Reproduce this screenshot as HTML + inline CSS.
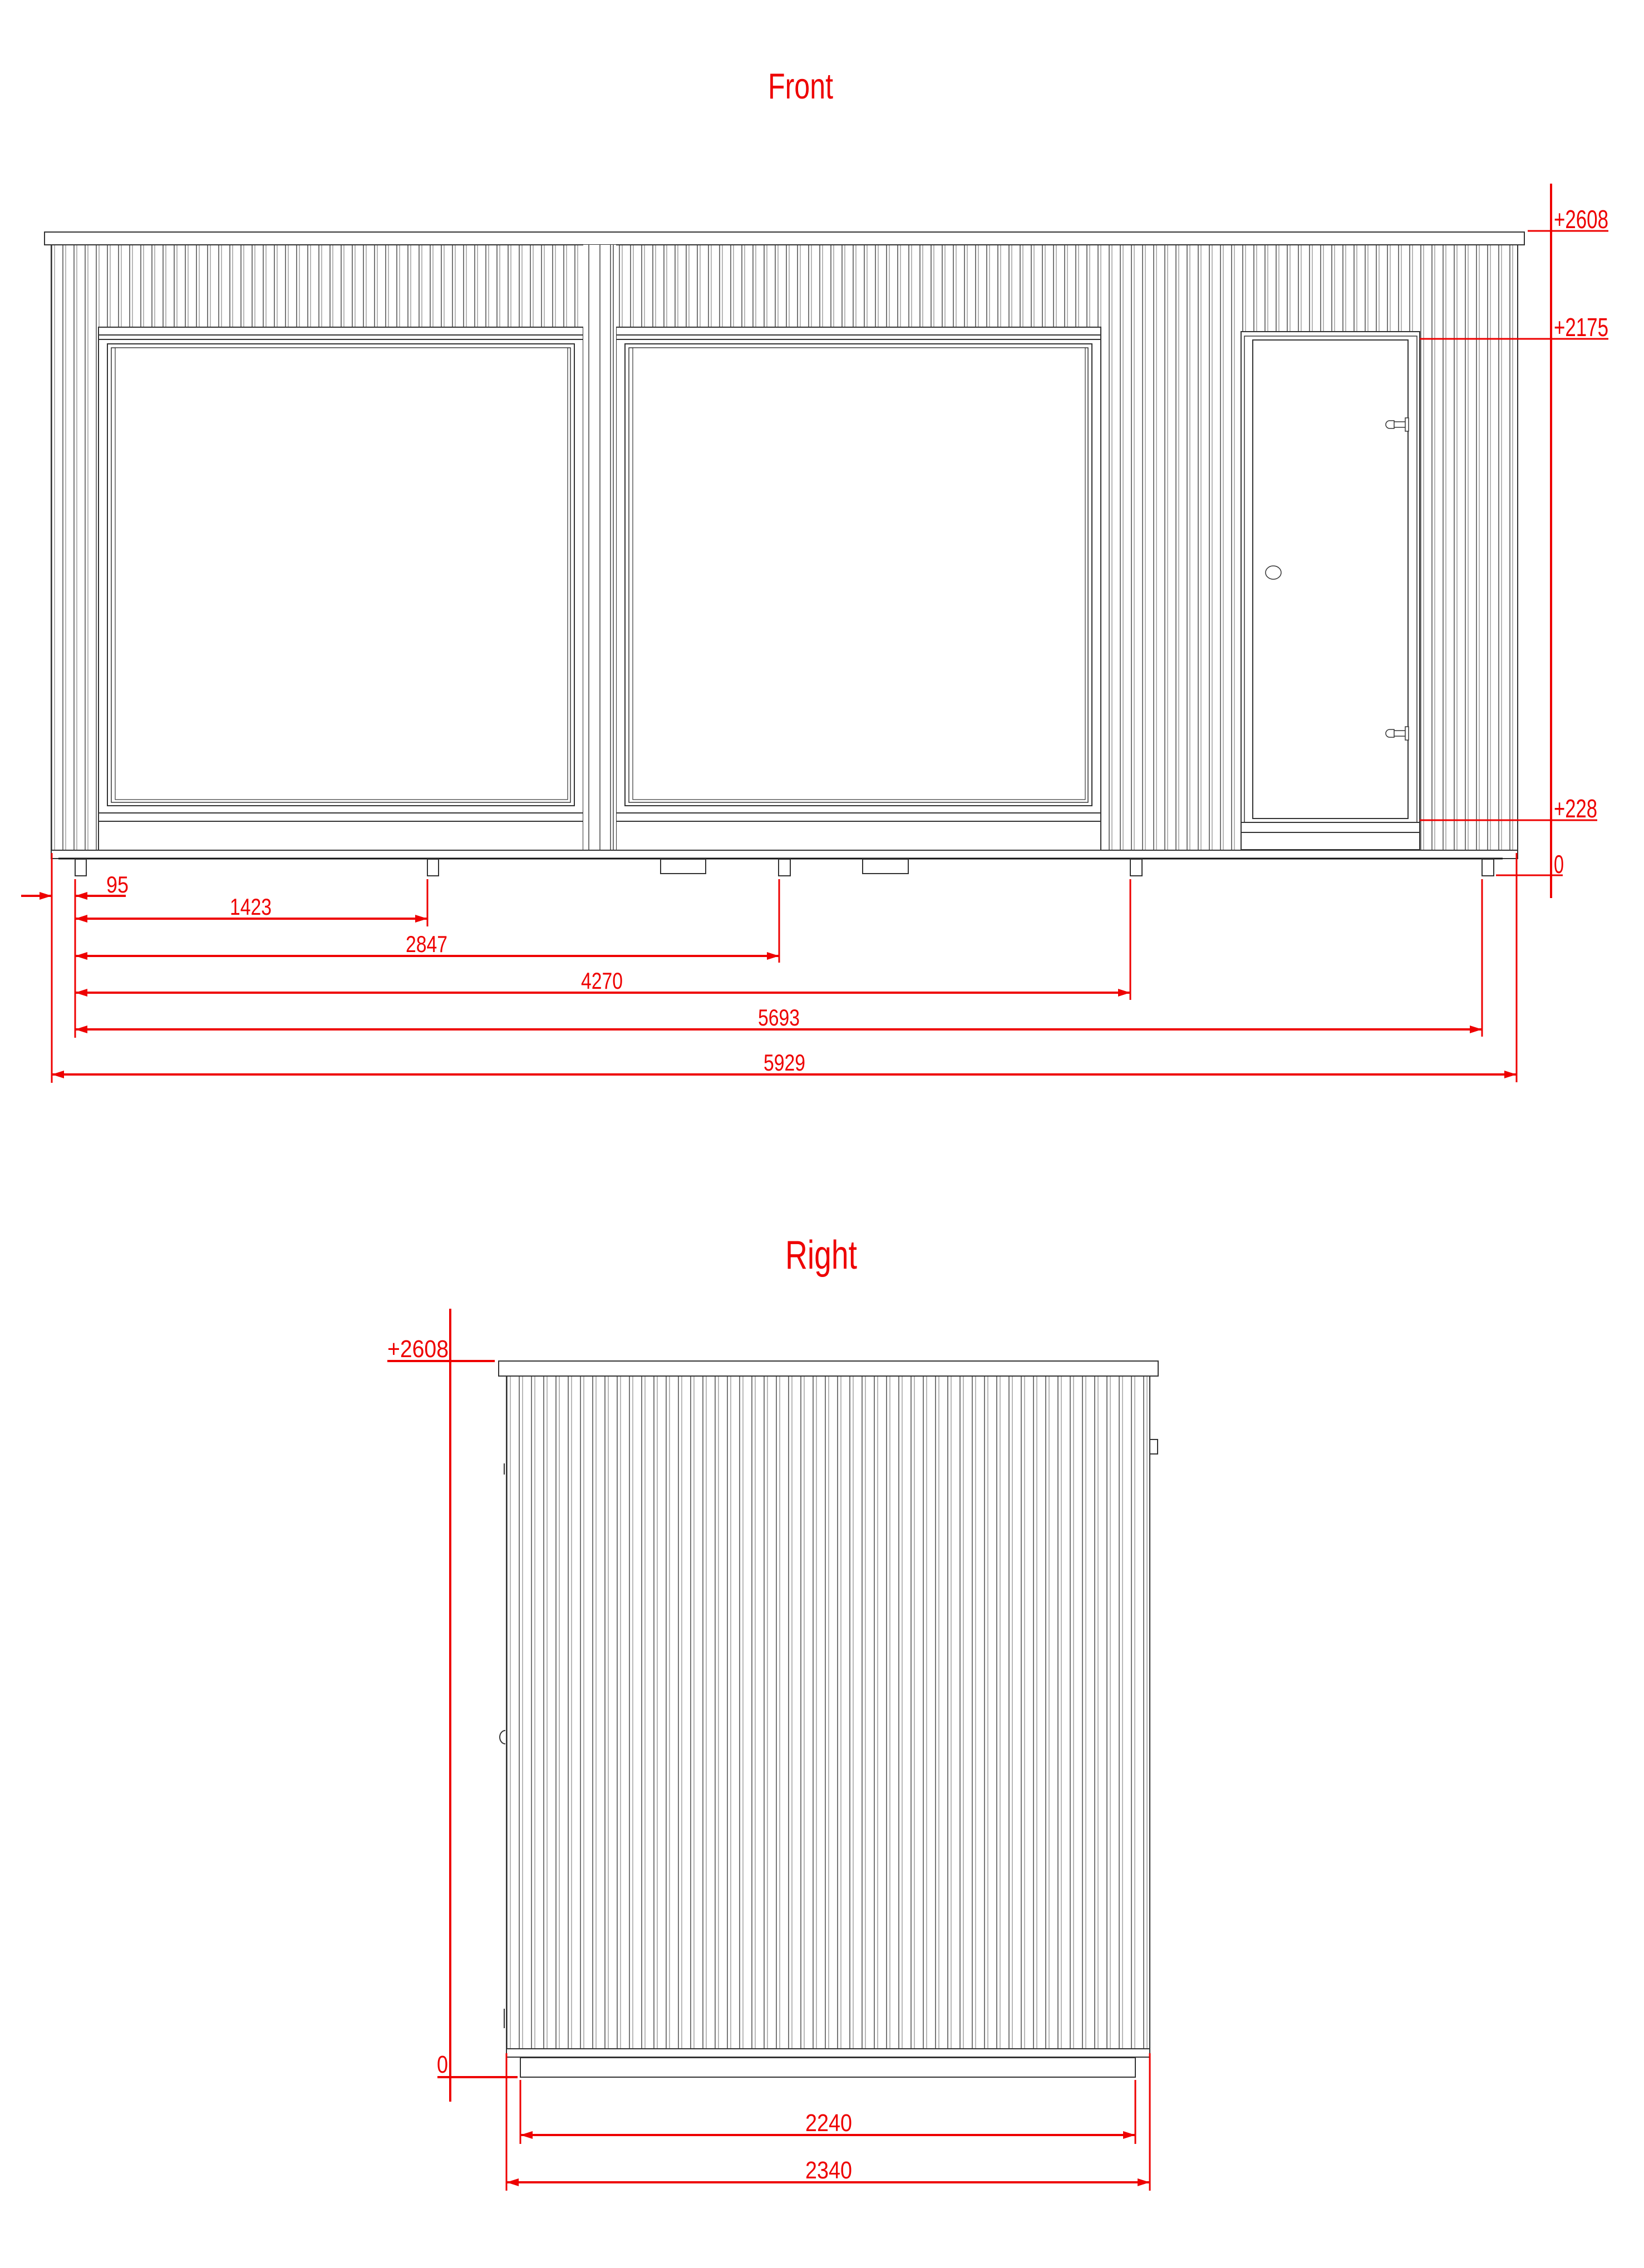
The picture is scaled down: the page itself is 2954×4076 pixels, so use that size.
<!DOCTYPE html>
<html><head><meta charset="utf-8"><style>html,body{margin:0;padding:0;background:#fff}svg{display:block}</style></head>
<body>
<svg width="2954" height="4076" viewBox="0 0 2954 4076" xmlns="http://www.w3.org/2000/svg" font-family="Liberation Sans, sans-serif">
<defs>
<pattern id="ribF" x="92" y="0" width="20" height="10" patternUnits="userSpaceOnUse">
<line x1="1" y1="0" x2="1" y2="10" stroke="#555" stroke-width="1.6"/>
<line x1="6" y1="0" x2="6" y2="10" stroke="#888" stroke-width="1.2"/>
</pattern>
<pattern id="ribR" x="910" y="0" width="22" height="10" patternUnits="userSpaceOnUse">
<line x1="1" y1="0" x2="1" y2="10" stroke="#555" stroke-width="1.6"/>
<line x1="7" y1="0" x2="7" y2="10" stroke="#888" stroke-width="1.2"/>
</pattern>
<marker id="a" markerWidth="22" markerHeight="14" refX="22" refY="7" orient="auto-start-reverse" markerUnits="userSpaceOnUse"><path d="M0,0 L22,7 L0,14 z" fill="#e00"/></marker>
</defs>

<!-- ================= FRONT ================= -->
<text x="1380" y="177" font-size="65" fill="#e00" textLength="117" lengthAdjust="spacingAndGlyphs">Front</text>

<!-- wall -->
<rect x="92" y="440" width="2635" height="1088" fill="url(#ribF)" stroke="#333" stroke-width="2"/>
<!-- roof -->
<rect x="80" y="417" width="2659" height="23" fill="#fff" stroke="#333" stroke-width="2"/>

<!-- window 1 -->
<g stroke="#333" stroke-width="2" fill="#fff">
<rect x="177" y="588" width="871" height="940"/>
<line x1="177" y1="602" x2="1048" y2="602"/>
<line x1="177" y1="610" x2="1048" y2="610"/>
<rect x="193" y="618" width="839" height="830"/>
<rect x="200" y="625" width="825" height="817" stroke-width="1.5"/>
<rect x="207" y="625" width="813" height="812" stroke-width="1.2"/>
<line x1="177" y1="1461" x2="1048" y2="1461"/>
<line x1="177" y1="1476" x2="1048" y2="1476"/>
</g>
<!-- window 2 -->
<g stroke="#333" stroke-width="2" fill="#fff">
<rect x="1107" y="588" width="871" height="940"/>
<line x1="1107" y1="602" x2="1978" y2="602"/>
<line x1="1107" y1="610" x2="1978" y2="610"/>
<rect x="1123" y="618" width="839" height="830"/>
<rect x="1130" y="625" width="825" height="817" stroke-width="1.5"/>
<rect x="1137" y="625" width="813" height="812" stroke-width="1.2"/>
<line x1="1107" y1="1461" x2="1978" y2="1461"/>
<line x1="1107" y1="1476" x2="1978" y2="1476"/>
</g>
<!-- pilaster between windows -->
<rect x="1048" y="440" width="59" height="1088" fill="#fff"/>
<g stroke="#444" stroke-width="1.5">
<line x1="1058" y1="440" x2="1058" y2="1528"/><line x1="1078" y1="440" x2="1078" y2="1528"/>
<line x1="1097" y1="440" x2="1097" y2="1528"/><line x1="1102" y1="440" x2="1102" y2="1528"/>
</g>

<!-- door -->
<g stroke="#333" stroke-width="2" fill="#fff">
<rect x="2230" y="596" width="321" height="931"/>
<rect x="2236" y="604" width="310" height="874" stroke-width="1.5"/>
<rect x="2251" y="611" width="279" height="860"/>
<line x1="2230" y1="1478" x2="2551" y2="1478"/>
<line x1="2230" y1="1496" x2="2551" y2="1496"/>
<ellipse cx="2288" cy="1029" rx="14" ry="12" stroke-width="1.5"/>
<path d="M2505,756 h-8 a7,7 0 0 0 0,14 h8 z M2505,758 h22 v10 h-22" stroke-width="1.5"/>
<rect x="2525" y="751" width="6" height="24" stroke-width="1.5"/>
<path d="M2505,1311 h-8 a7,7 0 0 0 0,14 h8 z M2505,1313 h22 v10 h-22" stroke-width="1.5"/>
<rect x="2525" y="1306" width="6" height="24" stroke-width="1.5"/>
</g>

<!-- floor -->
<rect x="92" y="1528" width="2635" height="15" fill="#fff" stroke="#333" stroke-width="2"/>
<line x1="105" y1="1543" x2="2700" y2="1543" stroke="#111" stroke-width="3"/>
<g stroke="#333" stroke-width="2" fill="#fff">
<rect x="135" y="1544" width="20" height="30"/>
<rect x="768" y="1544" width="20" height="30"/>
<rect x="1399" y="1544" width="21" height="30"/>
<rect x="2031" y="1544" width="21" height="30"/>
<rect x="2663" y="1544" width="21" height="30"/>
<rect x="1187" y="1544" width="81" height="26"/>
<rect x="1550" y="1544" width="82" height="26"/>
</g>

<!-- front dims -->
<g stroke="#e00" fill="none">
<line x1="2787" y1="330" x2="2787" y2="1614" stroke-width="4"/>
<line x1="2745" y1="415" x2="2890" y2="415" stroke-width="3"/>
<line x1="2551" y1="609" x2="2890" y2="609" stroke-width="3"/>
<line x1="2551" y1="1474" x2="2870" y2="1474" stroke-width="3"/>
<line x1="2688" y1="1573" x2="2808" y2="1573" stroke-width="3"/>
<line x1="93" y1="1533" x2="93" y2="1946" stroke-width="3"/>
<line x1="135" y1="1580" x2="135" y2="1865" stroke-width="3"/>
<line x1="768" y1="1580" x2="768" y2="1665" stroke-width="3"/>
<line x1="1400" y1="1580" x2="1400" y2="1730" stroke-width="3"/>
<line x1="2031" y1="1580" x2="2031" y2="1797" stroke-width="3"/>
<line x1="2663" y1="1580" x2="2663" y2="1863" stroke-width="3"/>
<line x1="2725" y1="1533" x2="2725" y2="1945" stroke-width="3"/>
<line x1="38" y1="1610" x2="93" y2="1610" stroke-width="4" marker-end="url(#a)"/>
<line x1="226" y1="1610" x2="135" y2="1610" stroke-width="4" marker-end="url(#a)"/>
<line x1="135" y1="1651" x2="768" y2="1651" stroke-width="4" marker-start="url(#a)" marker-end="url(#a)"/>
<line x1="135" y1="1718" x2="1400" y2="1718" stroke-width="4" marker-start="url(#a)" marker-end="url(#a)"/>
<line x1="135" y1="1784" x2="2031" y2="1784" stroke-width="4" marker-start="url(#a)" marker-end="url(#a)"/>
<line x1="135" y1="1850" x2="2663" y2="1850" stroke-width="4" marker-start="url(#a)" marker-end="url(#a)"/>
<line x1="93" y1="1931" x2="2725" y2="1931" stroke-width="4" marker-start="url(#a)" marker-end="url(#a)"/>
</g>
<g fill="#e00" font-size="42">
<text x="2792" y="410" font-size="46" textLength="98" lengthAdjust="spacingAndGlyphs">+2608</text>
<text x="2792" y="604" font-size="46" textLength="98" lengthAdjust="spacingAndGlyphs">+2175</text>
<text x="2792" y="1469" font-size="46" textLength="78" lengthAdjust="spacingAndGlyphs">+228</text>
<text x="2792" y="1569" font-size="46" textLength="18" lengthAdjust="spacingAndGlyphs">0</text>
<text x="191" y="1604" textLength="40" lengthAdjust="spacingAndGlyphs">95</text>
<text x="413" y="1644" textLength="75" lengthAdjust="spacingAndGlyphs">1423</text>
<text x="729" y="1711" textLength="75" lengthAdjust="spacingAndGlyphs">2847</text>
<text x="1044" y="1777" textLength="75" lengthAdjust="spacingAndGlyphs">4270</text>
<text x="1362" y="1843" textLength="75" lengthAdjust="spacingAndGlyphs">5693</text>
<text x="1372" y="1924" textLength="75" lengthAdjust="spacingAndGlyphs">5929</text>
</g>

<!-- ================= RIGHT ================= -->
<text x="1411" y="2280" font-size="72" fill="#e00" textLength="129" lengthAdjust="spacingAndGlyphs">Right</text>
<rect x="910" y="2473" width="1156" height="1209" fill="url(#ribR)" stroke="#333" stroke-width="2"/>
<rect x="896" y="2446" width="1185" height="27" fill="#fff" stroke="#333" stroke-width="2"/>
<rect x="910" y="3682" width="1156" height="15" fill="#fff" stroke="#333" stroke-width="2"/>
<rect x="935" y="3698" width="1105" height="35" fill="#fff" stroke="#333" stroke-width="2"/>
<path d="M2066,2587 h14 v26 h-14" fill="none" stroke="#333" stroke-width="2"/>
<line x1="906" y1="2630" x2="906" y2="2650" stroke="#333" stroke-width="2"/>
<path d="M908,3110 a10,12 0 0 0 0,24" fill="none" stroke="#333" stroke-width="2"/>
<line x1="906" y1="3610" x2="906" y2="3645" stroke="#333" stroke-width="2"/>

<g stroke="#e00" fill="none">
<line x1="809" y1="2352" x2="809" y2="3777" stroke-width="4"/>
<line x1="696" y1="2446" x2="889" y2="2446" stroke-width="4"/>
<line x1="786" y1="3733" x2="930" y2="3733" stroke-width="4"/>
<line x1="910" y1="3690" x2="910" y2="3937" stroke-width="3"/>
<line x1="2066" y1="3690" x2="2066" y2="3937" stroke-width="3"/>
<line x1="935" y1="3738" x2="935" y2="3853" stroke-width="3"/>
<line x1="2040" y1="3738" x2="2040" y2="3853" stroke-width="3"/>
<line x1="935" y1="3837" x2="2040" y2="3837" stroke-width="4" marker-start="url(#a)" marker-end="url(#a)"/>
<line x1="910" y1="3922" x2="2066" y2="3922" stroke-width="4" marker-start="url(#a)" marker-end="url(#a)"/>
</g>
<g fill="#e00" font-size="44">
<text x="696" y="2439" textLength="110" lengthAdjust="spacingAndGlyphs">+2608</text>
<text x="785" y="3725" textLength="20" lengthAdjust="spacingAndGlyphs">0</text>
<text x="1447" y="3830" textLength="84" lengthAdjust="spacingAndGlyphs">2240</text>
<text x="1447" y="3915" textLength="84" lengthAdjust="spacingAndGlyphs">2340</text>
</g>
</svg>
</body></html>
